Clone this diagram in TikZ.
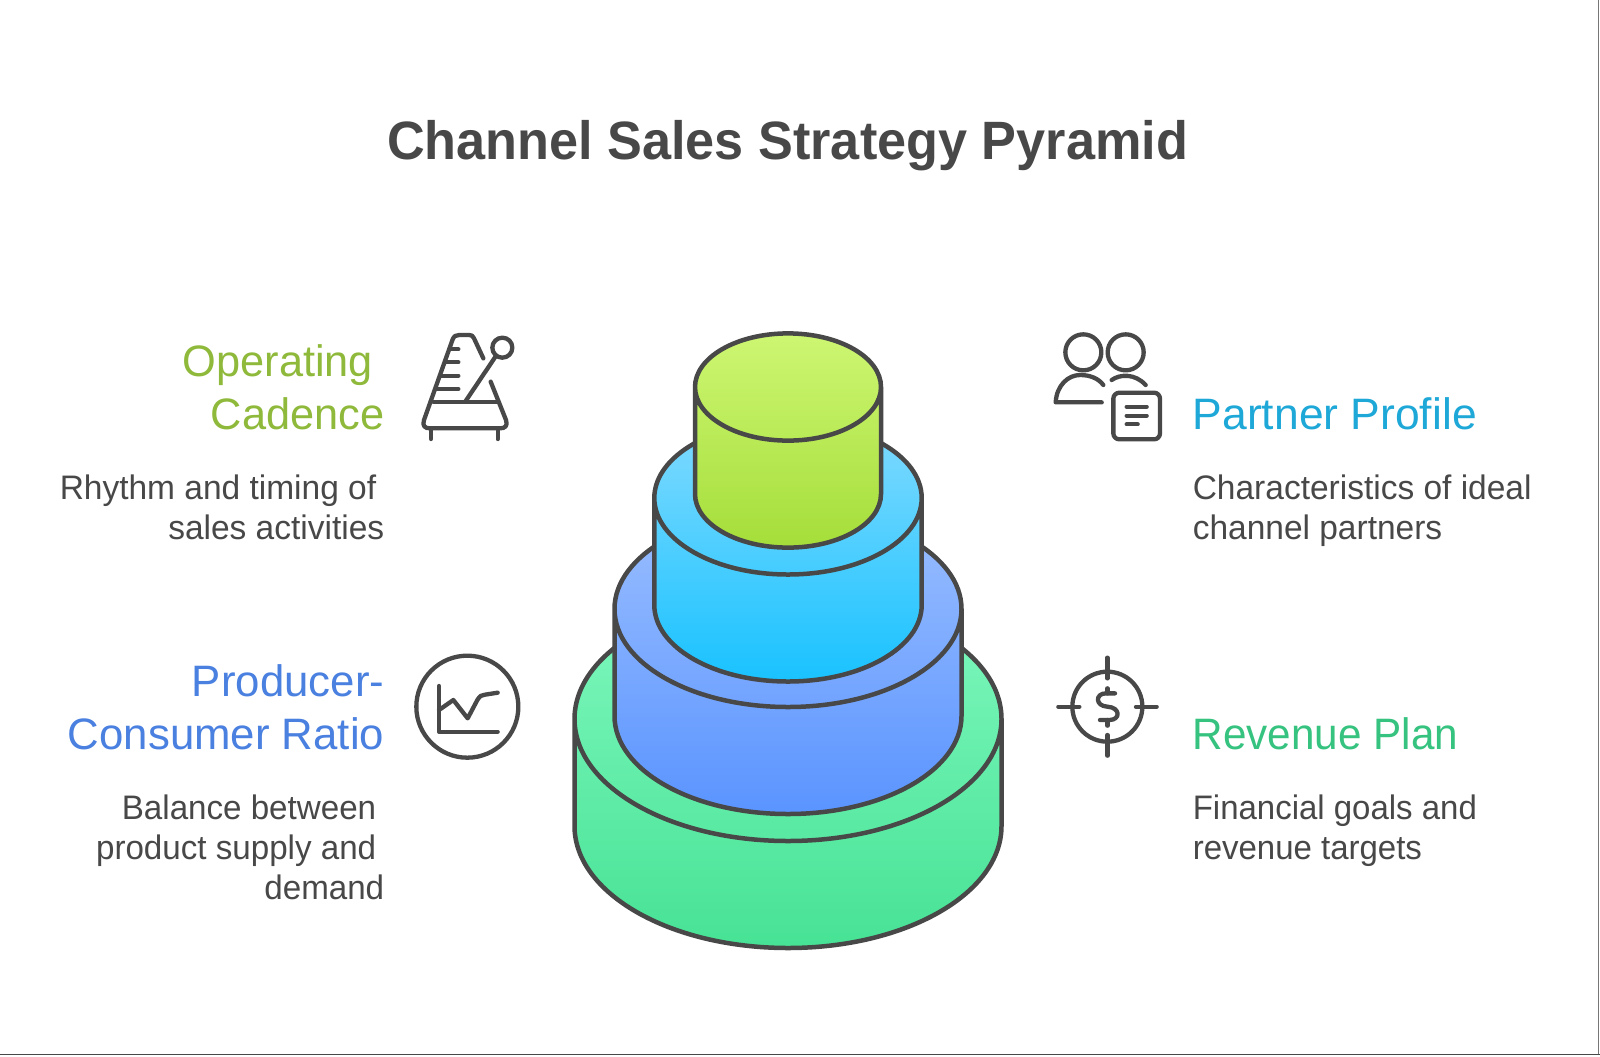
\documentclass[tikz,border=0pt]{standalone}
\usepackage{fontspec}
\setmainfont{Liberation Sans}
\newfontfamily\titlef[FakeStretch=0.967]{Liberation Sans Bold}
\newfontfamily\headA[FakeStretch=0.985]{Liberation Sans}
\newfontfamily\headB[FakeStretch=0.995]{Liberation Sans}
\newfontfamily\headC[FakeStretch=1.01]{Liberation Sans}
\newfontfamily\headD[FakeStretch=0.96]{Liberation Sans}
\newfontfamily\bodyA[FakeStretch=0.985]{Liberation Sans}
\newfontfamily\bodyB[FakeStretch=0.975]{Liberation Sans}
\newfontfamily\bodyC[FakeStretch=0.985]{Liberation Sans}
\newfontfamily\bodyD[FakeStretch=0.97]{Liberation Sans}
\definecolor{ink}{HTML}{484848}
\definecolor{cOp}{HTML}{8FB93A}
\definecolor{cPa}{HTML}{1EA8D8}
\definecolor{cPr}{HTML}{4A80E0}
\definecolor{cRe}{HTML}{36C27F}
\definecolor{gA}{HTML}{7FF8BE}\definecolor{gB}{HTML}{47E295}
\definecolor{bA}{HTML}{9ABEFF}\definecolor{bB}{HTML}{5A94FF}
\definecolor{sA}{HTML}{80DAFF}\definecolor{sB}{HTML}{19C2FF}
\definecolor{lA}{HTML}{CDF672}\definecolor{lB}{HTML}{A5DE3A}
\tikzset{
  outline/.style={draw=ink,line width=2.25pt,line join=round},
  iconline/.style={draw=ink,line width=2.15pt,line cap=round,line join=round},
  heading/.style={inner sep=0pt},
  bodytext/.style={text=ink,inner sep=0pt},
}
\newcommand{\hdsz}{\fontsize{22}{26.5}\selectfont}
\newcommand{\bdsz}{\fontsize{17}{20}\selectfont}
\newcommand{\tier}[7]{%
  % cx, ytop, ybot, rx, ry, light, dark
  \shade[top color=#6,bottom color=#7]
    (#1-#4,#2) arc[start angle=180,end angle=0,x radius=#4*0.5pt,y radius=#5*0.5pt]
    -- (#1+#4,#3) arc[start angle=360,end angle=180,x radius=#4*0.5pt,y radius=#5*0.5pt] -- cycle;
  \path[outline]
    (#1-#4,#2) arc[start angle=180,end angle=-180,x radius=#4*0.5pt,y radius=#5*0.5pt]
    -- (#1-#4,#3) arc[start angle=180,end angle=360,x radius=#4*0.5pt,y radius=#5*0.5pt] -- (#1+#4,#2);
}
\begin{document}
\begin{tikzpicture}[x=0.5pt,y=-0.5pt]
\useasboundingbox (0,0) rectangle (1600,1056);
\fill[white] (0,0) rectangle (1600,1056);
\draw[color=ink!75,line width=0.6pt] (1598.7,0) -- (1598.7,1054);
\draw[color=ink,line width=0.8pt] (0,1054.4) -- (1600,1054.4);

\tier{788}{719}{826}{213.5}{122}{gA}{gB}
\tier{788}{609}{716}{173.5}{98}{bA}{bB}
\tier{788}{498}{605}{133.7}{76.5}{sA}{sB}
\tier{788}{387}{494}{93}{53.6}{lA}{lB}

\node[font=\titlef\fontsize{27}{32}\selectfont,text=ink,inner sep=0pt,anchor=base] (title) at (787.5,159) {Channel Sales Strategy Pyramid};

\node[heading,font=\headA\hdsz,text=cOp,align=right,anchor=base east] (h1) at (384.6,429.4) {Operating\kern 5.6pt\\Cadence};
\node[bodytext,font=\bodyA\bdsz,align=right,anchor=base east] (b1) at (384.6,539) {Rhythm and timing of\kern 4pt\\sales activities};
\node[heading,font=\headB\hdsz,text=cPr,align=right,anchor=base east] (h2) at (384.6,749.4) {Producer-\\Consumer Ratio};
\node[bodytext,font=\bodyB\bdsz,align=right,anchor=base east] (b2) at (384.6,899) {Balance between\kern 4pt\\product supply and\kern 4pt\\demand};
\node[heading,font=\headC\hdsz,text=cPa,anchor=base west] (h3) at (1192.4,429.4) {Partner Profile};
\node[bodytext,font=\bodyC\bdsz,align=left,anchor=base west] (b3) at (1192.4,539) {Characteristics of ideal\\channel partners};
\node[heading,font=\headD\hdsz,text=cRe,anchor=base west] (h4) at (1192.4,749.4) {Revenue Plan};
\node[bodytext,font=\bodyD\bdsz,align=left,anchor=base west] (b4) at (1192.4,859) {Financial goals and\\revenue targets};

% metronome
\begin{scope}[shift={(400,320)},x=0.16667pt,y=-0.16667pt,iconline]
\draw (250,115) -- (222,55) .. controls (218,47) and (215,45) .. (208,45) -- (178,45) .. controls (168,45) and (162,48) .. (158,58) -- (72,300) .. controls (66,318) and (75,325) .. (90,325) -- (300,325) .. controls (315,325) and (324,318) .. (318,300) -- (272,185);
\draw (100,245) -- (295,245);
\draw (150,88) -- (175,88) (135,127) -- (175,127) (125,167) -- (175,167) (112,207) -- (175,207);
\draw (197,243) -- (285,112);
\draw (307,83) circle[radius=30];
\draw (93,325) -- (93,357) (293,325) -- (293,357);
\end{scope}
% partner
\begin{scope}[shift={(1025,320)},x=0.16667pt,y=-0.16667pt,iconline]
\draw (175,97) circle[radius=54] (302,97) circle[radius=54];
\draw (230,247) -- (92,247) .. controls (95,195) and (130,165) .. (165,165) .. controls (195,165) and (220,175) .. (235,195);
\draw (260,180) .. controls (285,162) and (330,160) .. (362,195);
\draw[rounded corners=3pt] (265,218) rectangle (405,358);
\draw (305,260) -- (365,260) (305,287) -- (365,287) (305,313) -- (338,313);
\end{scope}
% producer
\begin{scope}[shift={(400,635)},x=0.16667pt,y=-0.16667pt,iconline]
\draw (202,215) circle[radius=153];
\draw (117,153) -- (117,290) -- (293,290);
\draw (117,225) -- (160,195) -- (203,250) -- (232,195) .. controls (240,182) and (245,180) .. (255,179) -- (293,173);
\end{scope}
% revenue
\begin{scope}[shift={(1030,635)},x=0.16667pt,y=-0.16667pt,iconline]
\draw (232,215) circle[radius=105];
\draw (232,68) -- (232,130) (232,300) -- (232,362) (85,215) -- (148,215) (318,215) -- (380,215);
\draw (255,175) -- (228,175) .. controls (195,175) and (195,213) .. (232,215) .. controls (272,217) and (272,255) .. (238,255) -- (210,255);
\draw (232,160) -- (232,175) (232,255) -- (232,272);
\end{scope}
\end{tikzpicture}
\end{document}
